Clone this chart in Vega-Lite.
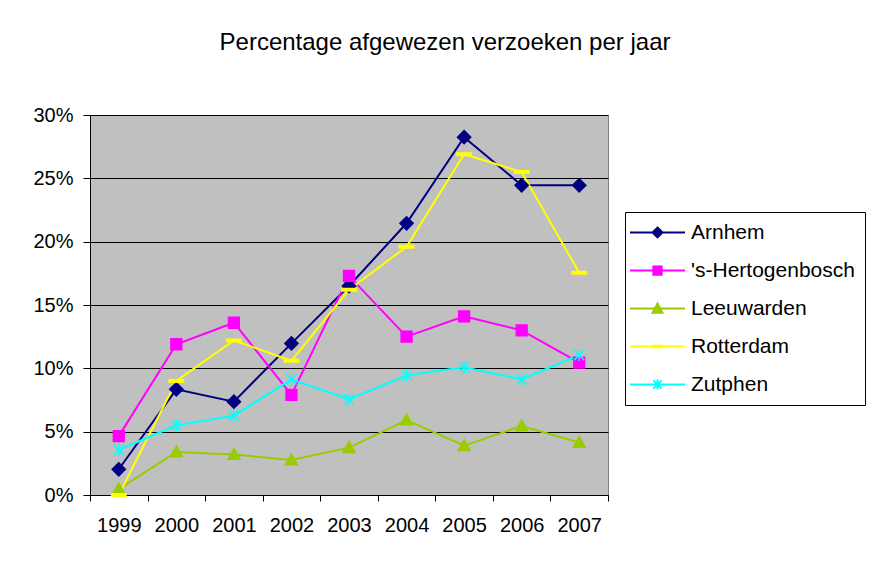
{
  "$schema": "https://vega.github.io/schema/vega-lite/v6.json",
  "width": 518,
  "height": 380,
  "autosize": {"type": "none"},
  "padding": {"left": 90, "top": 115, "right": 270, "bottom": 70},
  "background": "white",
  "title": {
    "text": "Percentage afgewezen verzoeken per jaar",
    "font": "Liberation Sans",
    "fontSize": 24,
    "fontWeight": "normal",
    "color": "black",
    "anchor": "middle",
    "frame": "group",
    "dx": 96,
    "offset": 50
  },
  "config": {
    "view": {"fill": "#C0C0C0", "stroke": "#808080", "strokeWidth": 1},
    "axis": {
      "labelFont": "Liberation Sans",
      "labelFontSize": 20,
      "labelColor": "black",
      "domainColor": "black",
      "tickColor": "black",
      "gridColor": "black",
      "gridOpacity": 1,
      "gridWidth": 1,
      "domainWidth": 1,
      "tickWidth": 1
    },
    "legend": {
      "labelFont": "Liberation Sans",
      "labelFontSize": 21,
      "labelColor": "black",
      "labelLimit": 400
    }
  },
  "data": {
    "values": [
      {"city": "Arnhem", "year": "1999", "pct": 0.0203},
      {"city": "Arnhem", "year": "2000", "pct": 0.0834},
      {"city": "Arnhem", "year": "2001", "pct": 0.0737},
      {"city": "Arnhem", "year": "2002", "pct": 0.1197},
      {"city": "Arnhem", "year": "2003", "pct": 0.165},
      {"city": "Arnhem", "year": "2004", "pct": 0.2145},
      {"city": "Arnhem", "year": "2005", "pct": 0.2825},
      {"city": "Arnhem", "year": "2006", "pct": 0.2445},
      {"city": "Arnhem", "year": "2007", "pct": 0.2445},
      {"city": "\u00a0's-Hertogenbosch", "year": "1999", "pct": 0.0465},
      {"city": "\u00a0's-Hertogenbosch", "year": "2000", "pct": 0.119},
      {"city": "\u00a0's-Hertogenbosch", "year": "2001", "pct": 0.136},
      {"city": "\u00a0's-Hertogenbosch", "year": "2002", "pct": 0.079},
      {"city": "\u00a0's-Hertogenbosch", "year": "2003", "pct": 0.173},
      {"city": "\u00a0's-Hertogenbosch", "year": "2004", "pct": 0.125},
      {"city": "\u00a0's-Hertogenbosch", "year": "2005", "pct": 0.141},
      {"city": "\u00a0's-Hertogenbosch", "year": "2006", "pct": 0.13},
      {"city": "\u00a0's-Hertogenbosch", "year": "2007", "pct": 0.1045},
      {"city": "Leeuwarden", "year": "1999", "pct": 0.0047},
      {"city": "Leeuwarden", "year": "2000", "pct": 0.034},
      {"city": "Leeuwarden", "year": "2001", "pct": 0.032},
      {"city": "Leeuwarden", "year": "2002", "pct": 0.0276},
      {"city": "Leeuwarden", "year": "2003", "pct": 0.0374},
      {"city": "Leeuwarden", "year": "2004", "pct": 0.0592},
      {"city": "Leeuwarden", "year": "2005", "pct": 0.039},
      {"city": "Leeuwarden", "year": "2006", "pct": 0.0545},
      {"city": "Leeuwarden", "year": "2007", "pct": 0.0415},
      {"city": "Rotterdam", "year": "1999", "pct": 0.0},
      {"city": "Rotterdam", "year": "2000", "pct": 0.09},
      {"city": "Rotterdam", "year": "2001", "pct": 0.122},
      {"city": "Rotterdam", "year": "2002", "pct": 0.106},
      {"city": "Rotterdam", "year": "2003", "pct": 0.162},
      {"city": "Rotterdam", "year": "2004", "pct": 0.196},
      {"city": "Rotterdam", "year": "2005", "pct": 0.269},
      {"city": "Rotterdam", "year": "2006", "pct": 0.255},
      {"city": "Rotterdam", "year": "2007", "pct": 0.1755},
      {"city": "Zutphen", "year": "1999", "pct": 0.0355},
      {"city": "Zutphen", "year": "2000", "pct": 0.055},
      {"city": "Zutphen", "year": "2001", "pct": 0.0626},
      {"city": "Zutphen", "year": "2002", "pct": 0.0913},
      {"city": "Zutphen", "year": "2003", "pct": 0.0755},
      {"city": "Zutphen", "year": "2004", "pct": 0.0945},
      {"city": "Zutphen", "year": "2005", "pct": 0.1008},
      {"city": "Zutphen", "year": "2006", "pct": 0.0913},
      {"city": "Zutphen", "year": "2007", "pct": 0.1105}
    ]
  },
  "encoding": {
    "x": {
      "field": "year",
      "type": "ordinal",
      "scale": {"type": "band", "paddingInner": 0, "paddingOuter": 0},
      "axis": {
        "title": null,
        "labelAngle": 0,
        "tickBand": "extent",
        "tickSize": 6,
        "labelPadding": 14,
        "grid": false
      }
    },
    "y": {
      "field": "pct",
      "type": "quantitative",
      "scale": {"domain": [0, 0.3], "nice": false, "zero": true},
      "axis": {
        "title": null,
        "values": [0, 0.05, 0.1, 0.15, 0.2, 0.25, 0.3],
        "format": ".0%",
        "tickSize": 7,
        "labelPadding": 10,
        "grid": true
      }
    }
  },
  "resolve": {"scale": {"shape": "independent", "fill": "independent", "stroke": "independent"}},
  "layer": [
    {
      "mark": {"type": "line", "strokeWidth": 2},
      "encoding": {
        "color": {
          "field": "city",
          "type": "nominal",
          "scale": {
            "domain": ["Arnhem", "\u00a0's-Hertogenbosch", "Leeuwarden", "Rotterdam", "Zutphen"],
            "range": ["#000080", "#FF00FF", "#99CC00", "#FFFF00", "#00FFFF"]
          },
          "legend": null
        }
      }
    },
    {
      "mark": {"type": "point", "filled": true, "opacity": 1, "size": 144, "strokeWidth": 1.5},
      "encoding": {
        "fill": {
          "field": "city",
          "type": "nominal",
          "legend": null,
          "scale": {
            "domain": ["Arnhem", "\u00a0's-Hertogenbosch", "Leeuwarden", "Rotterdam", "Zutphen"],
            "range": ["#000080", "#FF00FF", "#99CC00", "#FFFF00", "#00FFFF"]
          }
        },
        "stroke": {
          "field": "city",
          "type": "nominal",
          "legend": null,
          "scale": {
            "domain": ["Arnhem", "\u00a0's-Hertogenbosch", "Leeuwarden", "Rotterdam", "Zutphen"],
            "range": ["#000080", "#FF00FF", "#99CC00", "#FFFF00", "#00FFFF"]
          }
        },
        "shape": {
          "field": "city",
          "type": "nominal",
          "legend": null,
          "scale": {
            "domain": ["Arnhem", "\u00a0's-Hertogenbosch", "Leeuwarden", "Rotterdam", "Zutphen"],
            "range": [
              "M0,-1.1L1.1,0L0,1.1L-1.1,0Z",
              "M-0.9,-0.9H0.9V0.9H-0.9Z",
              "M0,-1L1,0.8H-1Z",
              "M-1.2,-0.2H1.2V0.2H-1.2Z",
              "M0,-1V1M-0.85,-0.85L0.85,0.85M-0.85,0.85L0.85,-0.85"
            ]
          }
        }
      }
    },
    {
      "transform": [{"filter": "datum.pct < 0"}],
      "mark": {"type": "point", "filled": true, "opacity": 1, "strokeWidth": 2},
      "encoding": {
        "fill": {
          "field": "city",
          "type": "nominal",
          "scale": {
            "domain": ["Arnhem", "\u00a0's-Hertogenbosch", "Leeuwarden", "Rotterdam", "Zutphen"],
            "range": ["#000080", "#FF00FF", "#99CC00", "#FFFF00", "#00FFFF"]
          },
          "legend": {
            "title": null, "orient": "none", "legendX": 535, "legendY": 97,
            "fillColor": "white", "strokeColor": "black", "padding": 10, "rowPadding": 16,
            "symbolSize": 121, "symbolOffset": 12, "labelOffset": 23, "symbolStrokeWidth": 2, "labelLimit": 400
          }
        },
        "stroke": {
          "field": "city",
          "type": "nominal",
          "scale": {
            "domain": ["Arnhem", "\u00a0's-Hertogenbosch", "Leeuwarden", "Rotterdam", "Zutphen"],
            "range": ["#000080", "#FF00FF", "#99CC00", "#FFFF00", "#00FFFF"]
          },
          "legend": {
            "title": null, "orient": "none", "legendX": 535, "legendY": 97,
            "fillColor": "white", "strokeColor": "black", "padding": 10, "rowPadding": 16,
            "symbolSize": 121, "symbolOffset": 12, "labelOffset": 23, "symbolStrokeWidth": 2, "labelLimit": 400
          }
        },
        "shape": {
          "field": "city",
          "type": "nominal",
          "scale": {
            "domain": ["Arnhem", "\u00a0's-Hertogenbosch", "Leeuwarden", "Rotterdam", "Zutphen"],
            "range": [
              "M-5,0H5M0,-0.9L0.9,0L0,0.9L-0.9,0Z",
              "M-5,0H5M-0.75,-0.75H0.75V0.75H-0.75Z",
              "M-5,0H5M0,-0.9L0.9,0.75H-0.9Z",
              "M-5,0H5M-0.8,-0.15H0.8V0.15H-0.8Z",
              "M-5,0H5M0,-0.9V0.9M-0.75,-0.75L0.75,0.75M-0.75,0.75L0.75,-0.75"
            ]
          },
          "legend": {
            "title": null, "orient": "none", "legendX": 535, "legendY": 97,
            "fillColor": "white", "strokeColor": "black", "padding": 10, "rowPadding": 16,
            "symbolSize": 121, "symbolOffset": 12, "labelOffset": 23, "symbolStrokeWidth": 2, "labelLimit": 400
          }
        }
      }
    }
  ]
}
